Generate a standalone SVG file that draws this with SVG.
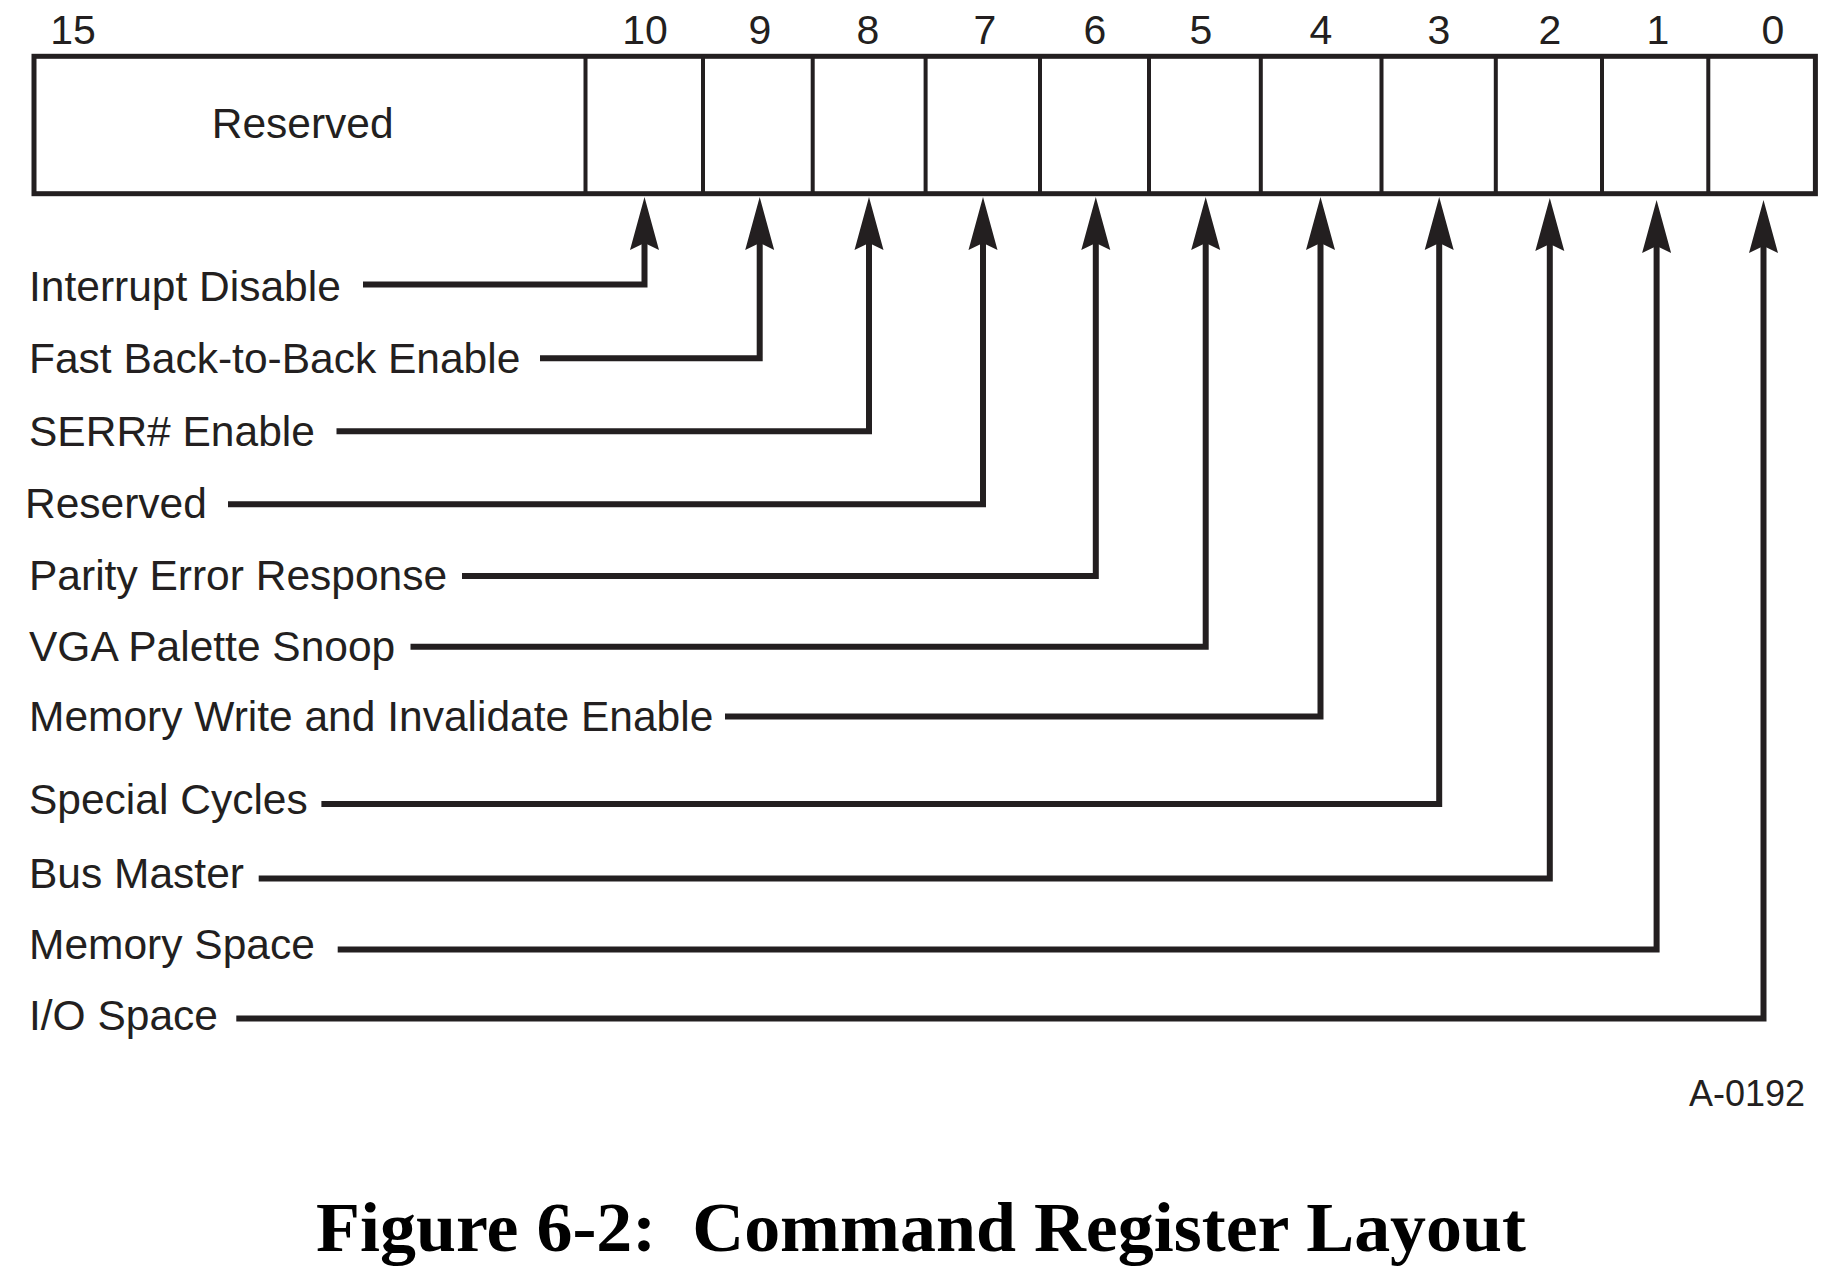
<svg xmlns="http://www.w3.org/2000/svg" width="1844" height="1286" viewBox="0 0 1844 1286">
  <style>
    .box { fill: #ffffff; stroke: #231f20; stroke-width: 5; }
    .cell { stroke: #231f20; stroke-width: 4; fill: none; }
    .lbl { font-family: "Liberation Sans", Arial, Helvetica, sans-serif; font-size: 42.5px; fill: #231f20; }
    .num { font-family: "Liberation Sans", Arial, Helvetica, sans-serif; font-size: 41px; fill: #231f20; text-anchor: middle; }
    .tag { font-family: "Liberation Sans", Arial, Helvetica, sans-serif; font-size: 36px; fill: #231f20; text-anchor: end; }
    .cap { font-family: "Liberation Serif", "Times New Roman", serif; font-size: 69px; font-weight: bold; fill: #000000; }
    .wire { fill: none; stroke: #231f20; stroke-width: 6; stroke-linejoin: miter; stroke-linecap: butt; marker-end: url(#head); }
  </style>
  <defs>
    <!-- notched arrowhead; reference point sits in the notch so the wire ends inside the head -->
    <marker id="head" markerUnits="userSpaceOnUse" viewBox="0 -15 54 30" markerWidth="54" markerHeight="30" refX="7" refY="0" orient="auto">
      <path d="M53,0 L0,-14.5 L7,0 L0,14.5 Z" fill="#231f20"/>
    </marker>
  </defs>

  <rect width="1844" height="1286" fill="#ffffff"/>

  <!-- bit numbers above the register -->
  <g id="bit-numbers">
    <text class="num" x="73" y="44">15</text>
    <text class="num" x="645" y="44">10</text>
    <text class="num" x="760" y="44">9</text>
    <text class="num" x="868" y="44">8</text>
    <text class="num" x="985" y="44">7</text>
    <text class="num" x="1095" y="44">6</text>
    <text class="num" x="1201" y="44">5</text>
    <text class="num" x="1321" y="44">4</text>
    <text class="num" x="1439" y="44">3</text>
    <text class="num" x="1550" y="44">2</text>
    <text class="num" x="1658" y="44">1</text>
    <text class="num" x="1773" y="44">0</text>
  </g>

  <!-- 16-bit command register -->
  <g id="register">
    <rect class="box" x="34" y="56.3" width="1781.4" height="137.4"/>
    <path class="cell" d="M585.5,56 V194 M703,56 V194 M812.7,56 V194 M925.6,56 V194 M1040,56 V194 M1149,56 V194 M1260.8,56 V194 M1381.5,56 V194 M1495.8,56 V194 M1602,56 V194 M1708.3,56 V194"/>
    <text class="lbl" x="302.7" y="138.3" text-anchor="middle">Reserved</text>
  </g>

  <!-- field names -->
  <g id="field-interrupt-disable"><text class="lbl" x="29" y="300.7">Interrupt Disable</text></g>
  <g id="field-fast-back-to-back"><text class="lbl" x="29" y="373.3">Fast Back-to-Back Enable</text></g>
  <g id="field-serr-enable"><text class="lbl" x="29" y="445.7">SERR# Enable</text></g>
  <g id="field-reserved"><text class="lbl" x="25" y="517.7">Reserved</text></g>
  <g id="field-parity-error"><text class="lbl" x="29" y="590">Parity Error Response</text></g>
  <g id="field-vga-snoop"><text class="lbl" x="29" y="661">VGA Palette Snoop</text></g>
  <g id="field-mwi-enable"><text class="lbl" x="29" y="731">Memory Write and Invalidate Enable</text></g>
  <g id="field-special-cycles"><text class="lbl" x="29" y="814">Special Cycles</text></g>
  <g id="field-bus-master"><text class="lbl" x="29" y="888.3">Bus Master</text></g>
  <g id="field-memory-space"><text class="lbl" x="29" y="959">Memory Space</text></g>
  <g id="field-io-space"><text class="lbl" x="29" y="1030">I/O Space</text></g>

  <!-- leader lines from each field name up to its bit -->
  <g id="connectors">
    <path class="wire" d="M363,284.4 H644.5 V243"/>
    <path class="wire" d="M540,358.3 H759.7 V243"/>
    <path class="wire" d="M336.5,431.3 H869 V243"/>
    <path class="wire" d="M228,504.3 H983 V243"/>
    <path class="wire" d="M462,575.9 H1095.8 V243"/>
    <path class="wire" d="M410.5,646.7 H1205.7 V243"/>
    <path class="wire" d="M725,716.5 H1320.5 V243"/>
    <path class="wire" d="M321.4,804 H1439.2 V243"/>
    <path class="wire" d="M258.7,878.5 H1549.8 V244"/>
    <path class="wire" d="M337.7,949.5 H1656.6 V246"/>
    <path class="wire" d="M236.3,1018.5 H1763.5 V246"/>
  </g>

  <g id="figure-id"><text class="tag" x="1805" y="1106">A-0192</text></g>

  <g id="caption">
    <text class="cap" x="316" y="1251" xml:space="preserve" textLength="1210" lengthAdjust="spacingAndGlyphs">Figure 6-2:  Command Register Layout</text>
  </g>
</svg>
